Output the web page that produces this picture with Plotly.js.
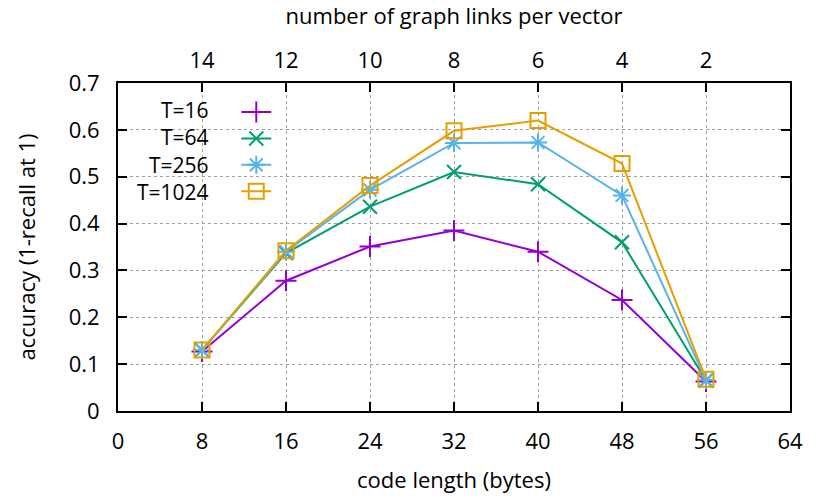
<!DOCTYPE html>
<html>
<head>
<meta charset="utf-8">
<script src="https://cdn.plot.ly/plotly-3.0.1.min.js"></script>
<style>
  html, body { margin: 0; padding: 0; background: #fff; }
  #chart { width: 830px; height: 498px; }
</style>
</head>
<body>
<div id="chart"></div>
<script>
// code length in bytes (bottom axis)
let codeLength = [8, 16, 24, 32, 40, 48, 56];
// links per vector shown on the top axis at the same positions
let linkTicks = ["14", "12", "10", "8", "6", "4", "2"];

let seriesNames = ["T=16", "T=64", "T=256", "T=1024"];
let acc16   = [0.127, 0.278, 0.351, 0.385, 0.340, 0.237, 0.063];
let acc64   = [0.130, 0.337, 0.436, 0.510, 0.484, 0.360, 0.065];
let acc256  = [0.130, 0.340, 0.472, 0.572, 0.573, 0.460, 0.066];
let acc1024 = [0.130, 0.342, 0.481, 0.598, 0.620, 0.528, 0.068];

let colors  = ["#9400d3", "#009e73", "#56b4e9", "#e69f00"];
let symbols = ["cross-thin", "x-thin", "asterisk-open", "square-open"];
let sizes   = [15, 14, 15, 15];
let allSeries = [acc16, acc64, acc256, acc1024];

let font = "Open Sans, sans-serif";
let fsize = 22;

let data = allSeries.map((ys, i) => ({
    x: codeLength,
    y: ys,
    type: "scatter",
    mode: "lines+markers",
    name: "",
    line: { color: colors[i], width: 2 },
    marker: { symbol: symbols[i], size: sizes[i], color: colors[i],
              line: { color: colors[i], width: 2 } }
}));

// dummy trace so the top axis is set up
data.push({ x: [codeLength[0]], y: [acc16[0]], xaxis: "x2", type: "scatter",
            mode: "markers", marker: { opacity: 0 }, showlegend: false, hoverinfo: "skip" });

// legend labels sit left of the line samples, like gnuplot (one block, right aligned)
let legendLabels = {
    text: seriesNames.join("<br>"), xref: "paper", yref: "paper", x: 0.138, y: 0.7936,
    xanchor: "right", yanchor: "middle", align: "right", showarrow: false,
    font: { family: font, size: 21, color: "#000" }
};

let layout = {
    width: 830, height: 498,
    margin: { l: 118, r: 40, t: 83, b: 87 },
    paper_bgcolor: "#fff", plot_bgcolor: "#fff",
    font: { family: font, size: fsize, color: "#000" },
    showlegend: true,
    legend: { x: 0.176, y: 0.967, xanchor: "left", yanchor: "top",
              bgcolor: "rgba(0,0,0,0)", font: { size: 18 }, itemwidth: 30, tracegroupgap: 0 },
    annotations: [legendLabels],
    xaxis: {
        range: [0, 64], tickvals: [0, 8, 16, 24, 32, 40, 48, 56, 64],
        ticks: "inside", ticklen: 9, tickwidth: 2, tickcolor: "#000",
        showline: true, linewidth: 2, linecolor: "#000", mirror: true,
        showgrid: true, gridcolor: "#a0a0a0", griddash: "dot", gridwidth: 1,
        zeroline: false, ticklabelstandoff: 10,
        title: { text: "code length (bytes)", font: { size: fsize }, standoff: 18 }
    },
    xaxis2: {
        overlaying: "x", side: "top", range: [0, 64],
        tickvals: codeLength, ticktext: linkTicks,
        ticks: "inside", ticklen: 9, tickwidth: 2, tickcolor: "#000",
        showgrid: false, zeroline: false, showline: false, ticklabelstandoff: 10,
        title: { text: "number of graph links per vector", font: { size: fsize }, standoff: 22 }
    },
    yaxis: {
        range: [0, 0.7], dtick: 0.1, tickformat: ".1~f",
        ticks: "inside", ticklen: 9, tickwidth: 2, tickcolor: "#000",
        showline: true, linewidth: 2, linecolor: "#000", mirror: "ticks",
        showgrid: true, gridcolor: "#a0a0a0", griddash: "dot", gridwidth: 1,
        zeroline: false, ticklabelstandoff: 12,
        title: { text: "accuracy (1-recall at 1)", font: { size: fsize }, standoff: 27 }
    }
};

Plotly.newPlot("chart", data, layout, { staticPlot: true });
</script>
</body>
</html>
